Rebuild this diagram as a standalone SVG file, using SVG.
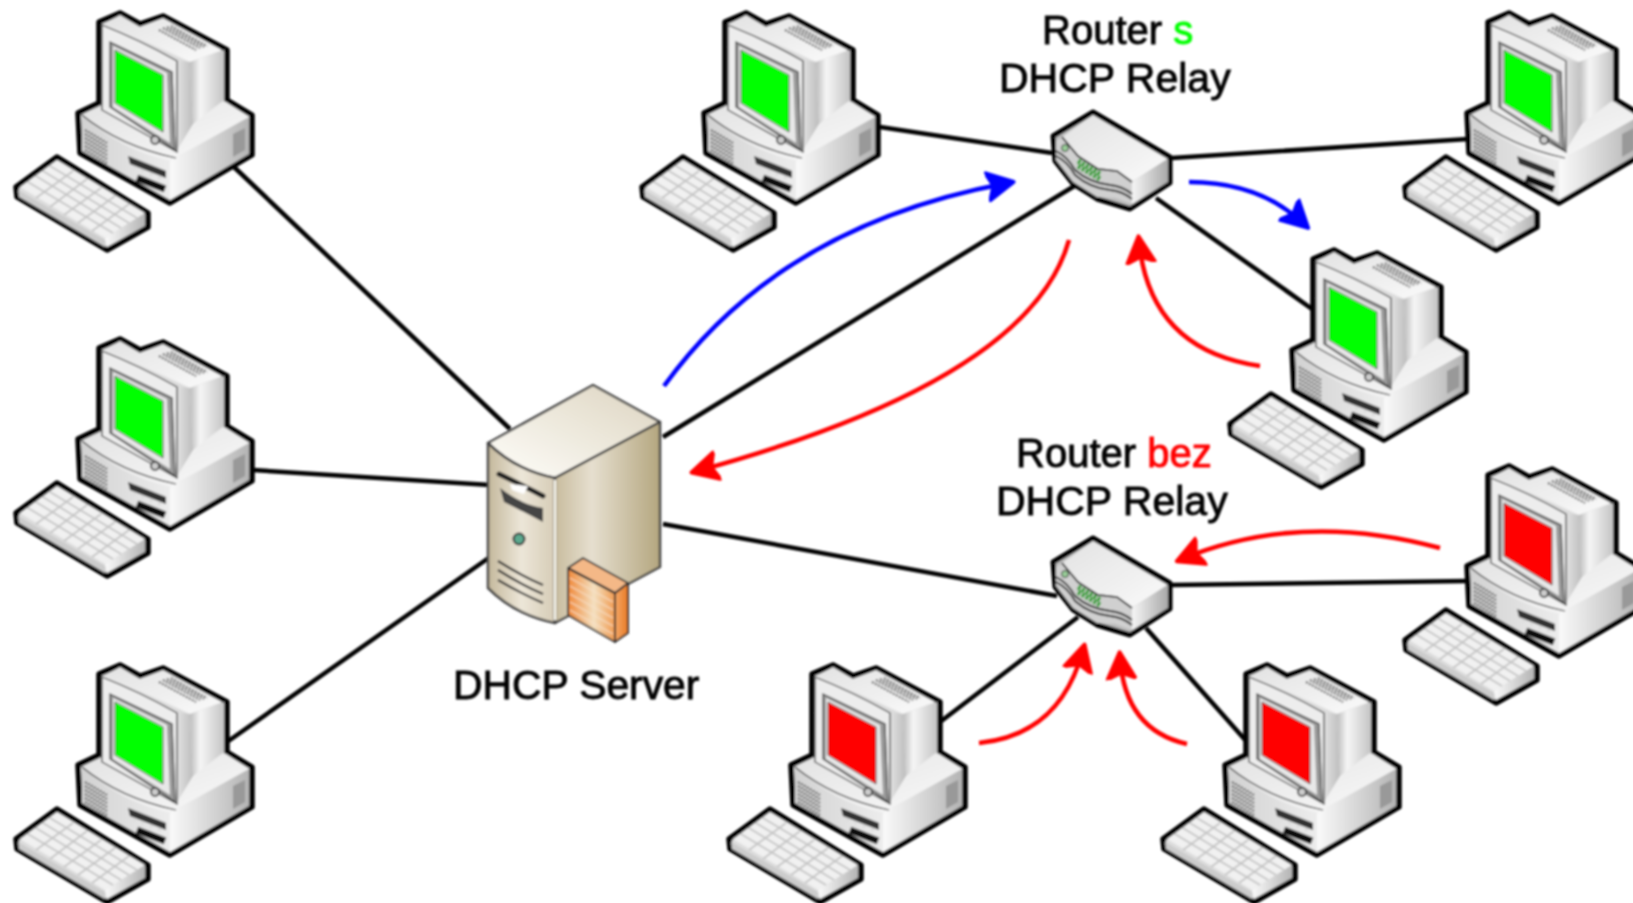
<svg xmlns="http://www.w3.org/2000/svg" xmlns:xlink="http://www.w3.org/1999/xlink" width="1633" height="903" viewBox="0 0 1633 903">
<style>
text{font-family:"Liberation Sans",Arial,sans-serif;font-size:40px;fill:#000;stroke:#000;stroke-width:.9}
.wire{fill:none;stroke:#000;stroke-width:4.5}
.blue{fill:none;stroke:#0000ff;stroke-width:4.5}
.red{fill:none;stroke:#ff0000;stroke-width:4.5}
.o{stroke:#000;stroke-linejoin:round}
.h{fill:none;stroke:#444;stroke-width:2;stroke-dasharray:2 1.4}
</style>
<defs>
<filter id="soft" filterUnits="userSpaceOnUse" x="0" y="0" width="1633" height="903"><feGaussianBlur stdDeviation="0.95"/></filter>
<linearGradient id="gSide" x1="0" y1="0" x2="1" y2="0"><stop offset="0" stop-color="#fafafa"/><stop offset="1" stop-color="#b4b4b4"/></linearGradient>
<linearGradient id="gMon" x1="0" y1="0" x2="1" y2="0"><stop offset="0" stop-color="#bcbcbc"/><stop offset=".3" stop-color="#f6f6f6"/><stop offset="1" stop-color="#c4c4c4"/></linearGradient>
<linearGradient id="gStrip" x1="0" y1="0" x2="1" y2="0"><stop offset="0" stop-color="#e4e4e4"/><stop offset="1" stop-color="#bdbdbd"/></linearGradient>
<linearGradient id="gFront" x1="0" y1="0" x2="1" y2="0"><stop offset="0" stop-color="#d2d2d2"/><stop offset="1" stop-color="#ececec"/></linearGradient>
<linearGradient id="gTop" x1="0" y1="0" x2="1" y2="1"><stop offset="0" stop-color="#e2e2e2"/><stop offset="1" stop-color="#fafafa"/></linearGradient>
<linearGradient id="sTop" x1="0" y1="1" x2="1" y2="0"><stop offset="0" stop-color="#fffefa"/><stop offset="1" stop-color="#dcd4c0"/></linearGradient>
<linearGradient id="sFront" x1="0" y1="0" x2="1" y2="0"><stop offset="0" stop-color="#c4b89c"/><stop offset=".5" stop-color="#ece6d8"/><stop offset="1" stop-color="#d6ccb6"/></linearGradient>
<linearGradient id="sRight" x1="0" y1="0" x2="1" y2="0"><stop offset="0" stop-color="#c8bc9e"/><stop offset=".35" stop-color="#e6dfcf"/><stop offset="1" stop-color="#b4a67f"/></linearGradient>
<linearGradient id="fFront" x1="0" y1="0" x2="1" y2="0"><stop offset="0" stop-color="#f08a3c"/><stop offset=".55" stop-color="#f4e0c0"/><stop offset="1" stop-color="#f09a50"/></linearGradient>
<linearGradient id="fSide" x1="0" y1="0" x2="1" y2="0"><stop offset="0" stop-color="#f4a868"/><stop offset="1" stop-color="#e87a24"/></linearGradient>
<linearGradient id="rRight" x1="0" y1="0" x2="1" y2="0"><stop offset="0" stop-color="#f6f6f6"/><stop offset="1" stop-color="#a8a8a8"/></linearGradient>
<marker id="ab" markerUnits="userSpaceOnUse" markerWidth="34" markerHeight="34" refX="19" refY="15" viewBox="0 0 30 30" orient="auto"><path d="M1,3 L24,15 L1,27 L6,15Z" fill="#0000ff" stroke="#0000ff" stroke-width="3.5" stroke-linejoin="round"/></marker>
<marker id="ar" markerUnits="userSpaceOnUse" markerWidth="34" markerHeight="34" refX="19" refY="15" viewBox="0 0 30 30" orient="auto"><path d="M1,3 L24,15 L1,27 L6,15Z" fill="#ff0000" stroke="#ff0000" stroke-width="3.5" stroke-linejoin="round"/></marker>
<g id="pc">
<path class="o" stroke-width="5.5" fill="#ddd" d="M99,22 120,13 140,24 163,16 227,50V100L252,115V155L170,203 80,153 78,113 99,103Z"/>
<path fill="url(#gTop)" d="M82,115 101,106 200,100 226,102 249,117 170,161 Q120,150 82,115Z"/>
<path fill="url(#gFront)" d="M82,115Q120,150 170,161V200L82,151Z"/>
<path fill="url(#gSide)" d="M170,161 249,117V154L170,200Z"/>
<path fill="#999" d="M233,134 245,128V150L233,157Z"/>
<path fill="url(#gTop)" d="M102,25 120,15 140,27 163,18 222,50 190,62 Q145,40 102,25Z"/>
<path class="h" d="M159,30 196,50M163,28 200,48M167,27 204,47M171,26 207,46"/>
<path fill="url(#gMon)" d="M190,62 224,50V100L193,124Z"/>
<path fill="url(#gStrip)" d="M176,60 190,62 193,124 176,152Z"/>
<path fill="#ededed" stroke="#333" stroke-width="1.2" d="M102,25Q140,40 177,61V152L102,110Z"/>
<path fill="#999" stroke="#333" stroke-width="1.2" d="M110,42 172,72 175,150 110,107Z"/>
<path fill="#e8e8e8" d="M113,46 167,73 170,143 113,107Z"/>
<path fill="currentColor" stroke="#555" d="M115,50 163,75V132L115,103Z"/>
<circle cx="155" cy="140" r="4" fill="#ccc" stroke="#222" stroke-width="1.6"/>
<path fill="none" stroke="#333" stroke-width="1.2" d="M82,115Q120,146 176,158"/>
<path class="h" d="M85,130 107,143M85,134 107,147M85,138 107,151M85,142 107,155M85,146 107,159M85,150 107,163"/>
<path fill="#333" d="M128,156 166,171V178L130,164Z"/>
<path fill="none" stroke="#ddd" stroke-width="3" stroke-dasharray="3 6" d="M133,167 165,180"/>
<path fill="none" stroke="#111" stroke-width="7" d="M137,178 165,189"/>
<path class="o" stroke-width="5.5" fill="#ddd" d="M16,187 57,157 148,213V227L107,250 17,197Z"/>
<path fill="#f1f1f1" d="M20,187 57,160 145,213 105,238Z"/>
<path fill="url(#gSide)" d="M105,238 145,213V226L107,247Z"/>
<path fill="#ccc" d="M18,190 105,240V247L19,197Z"/>
<path fill="none" stroke="#c4c4c4" stroke-width="1.8" d="M28,182 113,233M36,176 121,228M43,171 129,223M50,166 137,218M36,198 73,171M50,207 87,179M64,215 101,188M78,223 115,196M92,231 129,204"/>
</g>
<g id="rt">
<path class="o" stroke-width="5" fill="#bbb" d="M1053,136 1093,112 1170,157 1170,183 1130,209 1097,199 1073,184 1055,161Z"/>
<path fill="url(#gTop)" d="M1062,137 1093,115 1167,159 1132,182 1117,171 1098,169 1078,156Z"/>
<path fill="url(#rRight)" d="M1132,182 1168,159V182L1132,204Z"/>
<path fill="#d0d0d0" d="M1056,141 1062,137 1078,156 1098,169 1117,171 1132,182V204L1115,198 1097,197 1073,182 1056,160Z"/>
<path fill="none" stroke="#2f9e2f" stroke-width="5" stroke-dasharray="3 1.5" d="M1078,161 1100,174M1078,166 1100,179"/>
<path fill="none" stroke="#222" stroke-width="1.8" d="M1056,151Q1068,157 1075,170 1090,183 1110,185 1122,186 1132,194M1056,156Q1068,162 1075,175 1090,188 1110,190 1122,191 1132,199M1062,137 1078,156 1098,169 1117,171 1132,182"/>
<circle cx="1065" cy="148" r="3.5" fill="#9c9" stroke="#333"/>
</g>
</defs>
<rect width="1633" height="903" fill="#fff"/>
<g filter="url(#soft)">
<g id="connectors">
<path class="wire" d="M234,167 510,429M253,470 490,485M227,742 490,557M880,127 1052,153M1172,158 1468,139M1156,198 1312,309M663,437 1076,185M663,524 1057,596M1172,585 1468,581M940,722 1078,617M1146,628 1247,742"/>
<path class="blue" marker-end="url(#ab)" d="M664,386Q780,225 1008,183"/>
<path class="blue" marker-end="url(#ab)" d="M1189,182Q1260,182 1304,224"/>
<path class="red" marker-end="url(#ar)" d="M1069,240Q1030,380 697,471"/>
<path class="red" marker-end="url(#ar)" d="M1260,366Q1150,350 1139,242"/>
<path class="red" marker-end="url(#ar)" d="M1440,548Q1300,510 1182,559"/>
<path class="red" marker-end="url(#ar)" d="M979,743Q1060,735 1083,650"/>
<path class="red" marker-end="url(#ar)" d="M1187,744Q1125,730 1120,658"/>
</g>
<g id="pc1"><use xlink:href="#pc" href="#pc" color="#00ff00"/></g>
<g id="pc2"><use href="#pc" xlink:href="#pc" y="326" color="#00ff00"/></g>
<g id="pc3"><use href="#pc" xlink:href="#pc" y="652" color="#00ff00"/></g>
<g id="pc4"><use href="#pc" xlink:href="#pc" x="626" color="#00ff00"/></g>
<g id="pc5"><use href="#pc" xlink:href="#pc" x="1389" color="#00ff00"/></g>
<g id="pc6"><use href="#pc" xlink:href="#pc" x="1214" y="237" color="#00ff00"/></g>
<g id="pc7"><use href="#pc" xlink:href="#pc" x="1389" y="453" color="#ff0000"/></g>
<g id="pc8"><use href="#pc" xlink:href="#pc" x="713" y="652" color="#ff0000"/></g>
<g id="pc9"><use href="#pc" xlink:href="#pc" x="1147" y="652" color="#ff0000"/></g>
<g id="server">
<path fill="url(#sTop)" stroke="#444" stroke-width="2.5" stroke-linejoin="round" d="M593,385 660,422 555,478Q515,470 488,443Z"/>
<path fill="url(#sFront)" stroke="#444" stroke-width="2.5" stroke-linejoin="round" d="M488,443Q515,470 555,478V623Q515,615 488,588Z"/>
<path fill="url(#sRight)" stroke="#444" stroke-width="2.5" stroke-linejoin="round" d="M555,478 660,422V567L555,623Z"/>
<path fill="none" stroke="#fffef5" stroke-width="2" d="M555,480V620"/>
<path fill="none" stroke="#222" stroke-width="5" stroke-linecap="round" d="M499,474Q522,485 543,496"/>
<path fill="#444" d="M500,488Q522,505 543,508V522Q520,510 504,502Z"/>
<path fill="#fff" d="M510,484 528,486 524,494 512,490Z"/>
<circle cx="519" cy="539" r="5.5" fill="#5ba88e" stroke="#333" stroke-width="2"/>
<path fill="none" stroke="#333" stroke-width="2.2" d="M498,561Q520,575 543,585M498,570Q520,584 543,594M498,580Q520,593 543,603"/>
<path fill="url(#fFront)" stroke="#333" stroke-width="2" stroke-linejoin="round" d="M568,568 615,593V642L568,615Z"/>
<path fill="url(#fSide)" stroke="#333" stroke-width="2" stroke-linejoin="round" d="M615,593 628,583V633L615,642Z"/>
<path fill="#f4b887" stroke="#333" stroke-width="2" stroke-linejoin="round" d="M568,568 583,558 628,583 615,593Z"/>
<path fill="none" stroke="#f9e3cc" stroke-width="1" d="M570,578 613,602M570,586 613,610M570,594 613,618M570,602 613,626M570,610 613,634"/>
</g>
<g id="router1"><use href="#rt" xlink:href="#rt"/></g>
<g id="router2"><use href="#rt" xlink:href="#rt" y="426"/></g>
<g id="labels">
<text x="1042" y="44">Router <tspan style="fill:#00ff00;stroke:#00ff00">s</tspan></text>
<text x="999" y="92" style="font-size:41px">DHCP Relay</text>
<text x="1016" y="467">Router <tspan style="fill:#ff0000;stroke:#ff0000">bez</tspan></text>
<text x="996" y="515" style="font-size:41px">DHCP Relay</text>
<text x="453" y="699" style="font-size:40.8px">DHCP Server</text>
</g>
</g>
</svg>
